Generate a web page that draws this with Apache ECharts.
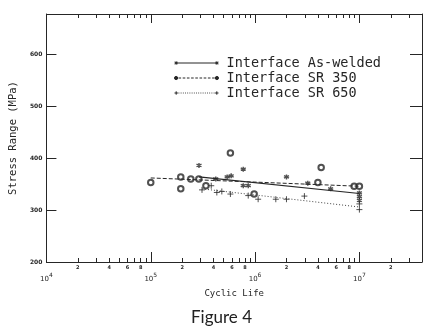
<!DOCTYPE html>
<html>
<head>
<meta charset="utf-8">
<title>Figure 4</title>
<script src="https://cdn.jsdelivr.net/npm/echarts@6.0.0/dist/echarts.min.js"></script>
<style>
html, body { margin: 0; padding: 0; background: #fff; }
#chart { width: 432px; height: 329px; }
</style>
</head>
<body>
<div id="chart"></div>
<script>
// 图例名称
var seriesNames = ['Interface As-welded', 'Interface SR 350', 'Interface SR 650'];

// 试验点：As-welded（星号）
var cyclesAW = [2.9e5, 4.2e5, 5.4e5, 5.9e5, 7.7e5, 7.7e5, 8.6e5, 2.0e6, 3.2e6, 5.3e6, 1e7, 1e7, 1e7];
var stressAW = [386, 360, 364, 366, 379, 347, 347, 364, 352, 341, 333, 326, 319];

// 试验点：SR 350（空心圆）
var cycles350 = [1.0e5, 1.94e5, 1.94e5, 2.42e5, 2.89e5, 3.38e5, 5.8e5, 9.8e5, 4.0e6, 4.3e6, 8.9e6, 1e7];
var stress350 = [353, 364, 341, 360, 360, 347, 410, 331, 353, 382, 346, 346];

// 试验点：SR 650（加号）
var cycles650 = [3.1e5, 3.8e5, 4.3e5, 4.8e5, 5.8e5, 8.6e5, 1.07e6, 1.58e6, 2.0e6, 2.97e6, 1e7, 1e7];
var stress650 = [339, 347, 334, 336, 331, 328, 321, 321, 321, 327, 312, 301];

// 回归线端点
var fitCyclesAW = [2.9e5, 1e7];
var fitStressAW = [364, 332];
var fitCycles350 = [1e5, 1e7];
var fitStress350 = [362, 346];
var fitCycles650 = [3.1e5, 1e7];
var fitStress650 = [341, 306];

// 坐标轴刻度
var majorExps = [4, 5, 6, 7];
var minorTickCycles = [
    2e4, 3e4, 4e4, 5e4, 6e4, 7e4, 8e4, 9e4,
    2e5, 3e5, 4e5, 5e5, 6e5, 7e5, 8e5, 9e5,
    2e6, 3e6, 4e6, 5e6, 6e6, 7e6, 8e6, 9e6,
    2e7, 3e7
];
var minorLabelCycles = [2e4, 4e4, 6e4, 8e4, 2e5, 4e5, 6e5, 8e5, 2e6, 4e6, 6e6, 8e6, 2e7];
var yLabelValues = [200, 300, 400, 500, 600];
var yTickValues = [300, 400, 500, 600];

var ink = '#262626';
var symAsterisk = 'path://M5,0L5,10M0.7,2.5L9.3,7.5M0.7,7.5L9.3,2.5';
var symPlus = 'path://M5,0L5,10M0,5L10,5';

function toLog(arr) {
    return arr.map(function(v) { return Math.log10(v); });
}

function toPairs(cycles, stress) {
    return cycles.map(function(c, i) { return [Math.log10(c), stress[i]]; });
}

// 图例图标：两端带标记的线段（宽 44，高 8）
function dashPath(x0, x1, dash, gap) {
    var s = '';
    for (var x = x0; x < x1; x += dash + gap) {
        s += 'M' + x + ',4L' + Math.min(x + dash, x1) + ',4';
    }
    return s;
}
var endAsterisk = function(x) {
    return 'M' + x + ',2.2L' + x + ',5.8M' + (x - 1.6) + ',3.1L' + (x + 1.6) + ',4.9M' + (x - 1.6) + ',4.9L' + (x + 1.6) + ',3.1';
};
var endCircle = function(x) {
    return 'M' + (x + 1.6) + ',4A1.6,1.6 0 1 1 ' + (x - 1.6) + ',4A1.6,1.6 0 1 1 ' + (x + 1.6) + ',4';
};
var endPlus = function(x) {
    return 'M' + x + ',2.3L' + x + ',5.7M' + (x - 1.7) + ',4L' + (x + 1.7) + ',4';
};
var iconAW = 'path://M0,0M44,8' + endAsterisk(1.6) + 'M1.6,4L42.4,4' + endAsterisk(42.4);
var icon350 = 'path://M0,0M44,8' + endCircle(1.6) + dashPath(4, 40.5, 2.6, 1.6) + endCircle(42.4);
var icon650 = 'path://M0,0M44,8' + endPlus(1.7) + dashPath(4, 40.5, 0.8, 1.4) + endPlus(42.3);

// x 轴（对数坐标，用 log10 值）
function makeXAxis(pos, ticks, tickLen, showLine) {
    return {
        type: 'value',
        position: pos,
        min: 4,
        max: 7.6,
        axisLine: { show: showLine, onZero: false, lineStyle: { color: ink, width: 1 } },
        axisTick: {
            show: true, inside: true, length: tickLen,
            customValues: ticks,
            lineStyle: { color: ink, width: 1 }
        },
        axisLabel: { show: false },
        splitLine: { show: false }
    };
}

var chart = echarts.init(document.getElementById('chart'));

var xMajorBottom = makeXAxis('bottom', majorExps, 10, true);
xMajorBottom.axisLabel = {
    show: true,
    customValues: majorExps,
    margin: 10,
    formatter: function(v) {
        return '{b|10}{s|' + Math.round(v) + '}';
    },
    rich: {
        b: { fontSize: 7, fontFamily: 'DejaVu Sans', color: ink, verticalAlign: 'bottom' },
        s: { fontSize: 6, fontFamily: 'DejaVu Sans', color: ink, padding: [0, 0, 5, 0] }
    }
};
xMajorBottom.name = 'Cyclic Life';
xMajorBottom.nameLocation = 'middle';
xMajorBottom.nameGap = 27;
xMajorBottom.nameTextStyle = { fontSize: 9, fontFamily: 'DejaVu Sans Mono', color: ink };

var xMinorBottom = makeXAxis('bottom', toLog(minorTickCycles), 4, false);
xMinorBottom.axisLabel = {
    show: true,
    customValues: toLog(minorLabelCycles),
    margin: 3,
    fontSize: 5,
    fontWeight: 'bold',
    fontFamily: 'DejaVu Sans',
    color: ink,
    formatter: function(v) {
        return String(Math.round(Math.pow(10, v - Math.floor(v + 1e-9))));
    }
};

var xMajorTop = makeXAxis('top', majorExps, 9, true);
var xMinorTop = makeXAxis('top', toLog(minorTickCycles), 4, false);

var legendStyle = { color: ink, borderColor: ink, borderWidth: 1 };

var option = {
    backgroundColor: '#fff',
    animation: false,
    title: {
        text: 'Figure 4',
        left: 191,
        top: 309,
        padding: 0,
        textStyle: { fontSize: 17, fontWeight: 'normal', fontFamily: 'Lato', color: '#222' }
    },
    grid: { left: 43, right: 10, top: 14, bottom: 67 },
    legend: {
        orient: 'vertical',
        left: 174,
        top: 56,
        padding: 0,
        itemWidth: 44,
        itemHeight: 8,
        itemGap: 1,
        data: [
            { name: seriesNames[0], icon: iconAW, itemStyle: legendStyle },
            { name: seriesNames[1], icon: icon350, itemStyle: legendStyle },
            { name: seriesNames[2], icon: icon650, itemStyle: legendStyle }
        ],
        textStyle: { fontSize: 13.5, lineHeight: 14, fontFamily: 'DejaVu Sans Mono', color: ink, padding: [0, 0, 0, 3] }
    },
    xAxis: [xMajorBottom, xMinorBottom, xMajorTop, xMinorTop],
    yAxis: [
        {
            type: 'value',
            position: 'left',
            min: 200,
            max: 678,
            name: 'Stress Range (MPa)',
            nameLocation: 'middle',
            nameGap: 27,
            nameTextStyle: { fontSize: 10.5, fontFamily: 'DejaVu Sans Mono', color: ink },
            axisLine: { show: true, lineStyle: { color: ink, width: 1 } },
            axisTick: { show: true, inside: true, length: 10, customValues: yTickValues, lineStyle: { color: ink } },
            axisLabel: {
                customValues: yLabelValues, margin: 4, fontSize: 6, fontWeight: 'bold',
                fontFamily: 'DejaVu Sans', color: ink
            },
            splitLine: { show: false }
        },
        {
            type: 'value',
            position: 'right',
            min: 200,
            max: 678,
            axisLine: { show: true, lineStyle: { color: ink, width: 1 } },
            axisTick: { show: true, inside: true, length: 12, customValues: yTickValues, lineStyle: { color: ink } },
            axisLabel: { show: false },
            splitLine: { show: false }
        }
    ],
    series: [
        // 回归线
        {
            name: seriesNames[0], type: 'line', showSymbol: false, symbol: 'none',
            data: toPairs(fitCyclesAW, fitStressAW),
            lineStyle: { color: ink, width: 1.2, type: 'solid' },
            itemStyle: { color: ink }
        },
        {
            name: seriesNames[1], type: 'line', showSymbol: false, symbol: 'none',
            data: toPairs(fitCycles350, fitStress350),
            lineStyle: { color: ink, width: 1, type: [4, 2] },
            itemStyle: { color: ink }
        },
        {
            name: seriesNames[2], type: 'line', showSymbol: false, symbol: 'none',
            data: toPairs(fitCycles650, fitStress650),
            lineStyle: { color: '#444', width: 1, type: [1, 2] },
            itemStyle: { color: ink }
        },
        // 试验点
        {
            name: seriesNames[0], type: 'scatter',
            symbol: symAsterisk, symbolSize: 5,
            data: toPairs(cyclesAW, stressAW),
            itemStyle: { color: ink, borderColor: ink, borderWidth: 1.4 }
        },
        {
            name: seriesNames[1], type: 'scatter',
            symbol: 'emptyCircle', symbolSize: 5.5,
            data: toPairs(cycles350, stress350),
            itemStyle: { color: ink, borderColor: ink, borderWidth: 0.8 }
        },
        {
            name: seriesNames[2], type: 'scatter',
            symbol: symPlus, symbolSize: 6,
            data: toPairs(cycles650, stress650),
            itemStyle: { color: ink, borderColor: ink, borderWidth: 1 }
        }
    ]
};

chart.setOption(option);
</script>
</body>
</html>
